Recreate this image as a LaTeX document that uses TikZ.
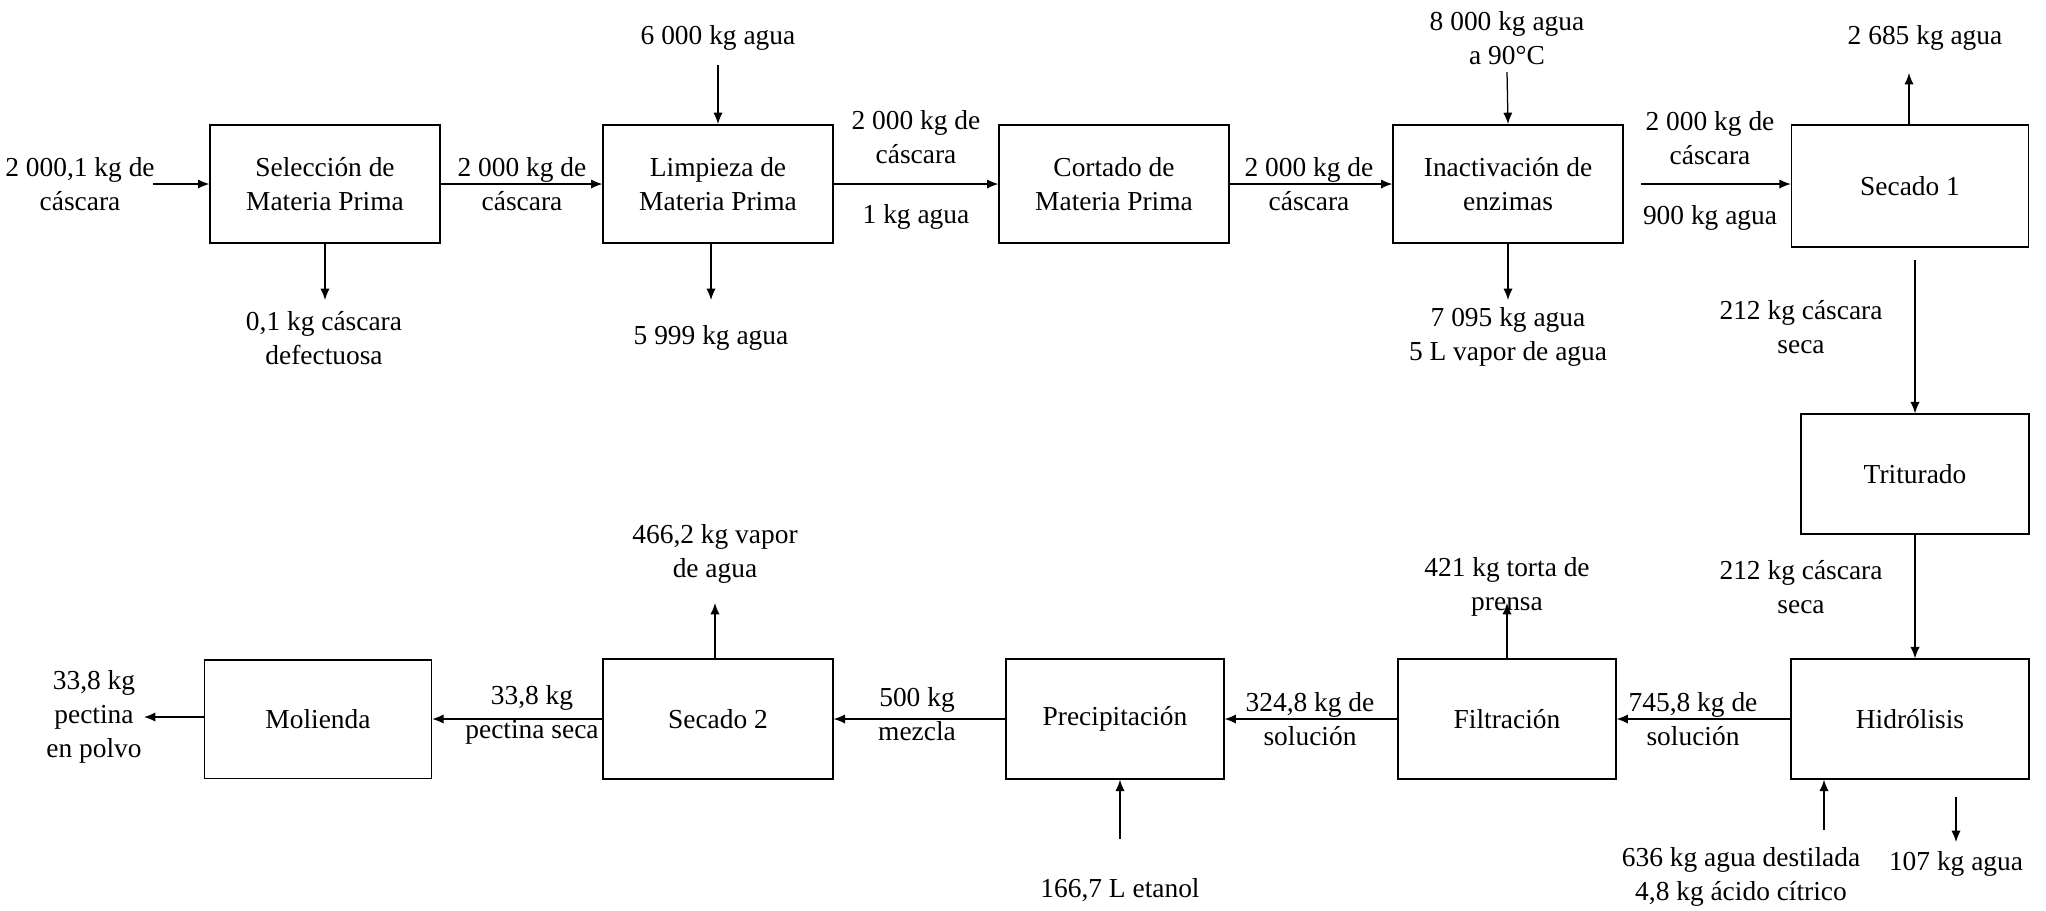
\documentclass[tikz,border=0pt]{standalone}
\usepackage{fontspec}
\setmainfont{Liberation Serif}
\usepackage{tikz}
\usetikzlibrary{arrows.meta}

\begin{document}
\begin{tikzpicture}[x=0.0141cm,y=-0.0141cm,
	>={Latex[length=1.6mm,width=1.3mm]},
	font=\fontsize{11}{13.5}\selectfont,
	box/.style={draw,line width=0.6pt,minimum width=3.24cm,minimum height=1.67cm,align=center},
	lbl/.style={align=center,inner sep=0pt},
	flow/.style={->,line width=0.5pt}]
	\useasboundingbox (0,0) rectangle (2046,910);

	% etapas
	\node[box] (sel) at (325,184) {Selección de\\Materia Prima};
	\node[box] (limp) at (718,184) {Limpieza de\\Materia Prima};
	\node[box] (cort) at (1114,184) {Cortado de\\Materia Prima};
	\node[box] (inact) at (1508,184) {Inactivación de\\enzimas};
	\node[box,minimum width=3.34cm,minimum height=1.72cm] (sec1) at (1910,186) {Secado 1};
	\node[box,minimum width=3.22cm,minimum height=1.69cm] (trit) at (1915,474) {Triturado};
	\node[box,minimum width=3.36cm,minimum height=1.69cm] (hidr) at (1910,719) {Hidrólisis};
	\node[box,minimum width=3.07cm,minimum height=1.69cm] (filt) at (1507,719) {Filtración};
	\node[box,minimum width=3.07cm,minimum height=1.69cm] (prec) at (1115,719) {Precipitación};
	\node[box,minimum width=3.24cm,minimum height=1.69cm] (sec2) at (718,719) {Secado 2};
	\node[box,minimum width=3.2cm,minimum height=1.67cm] (mol) at (318,719) {Molienda};

	% corrientes
	\node[lbl] (l0) at (80,184) {2 000,1 kg de\\cáscara};
	\node[lbl] (l1) at (522,184) {2 000 kg de\\cáscara};
	\node[lbl] (l2) at (324,338) {0,1 kg cáscara\\defectuosa};
	\node[lbl] (l3) at (718,38) {6 000 kg agua};
	\node[lbl] (l4) at (711,338) {5 999 kg agua};
	\node[lbl] (l5) at (916,137) {2 000 kg de\\cáscara};
	\node[lbl] (l6) at (916,217) {1 kg agua};
	\node[lbl] (l7) at (1309,184) {2 000 kg de\\cáscara};
	\node[lbl] (l8) at (1507,38) {8 000 kg agua\\a 90°C};
	\node[lbl] (l9) at (1508,337) {7 095 kg agua\\5 L vapor de agua};
	\node[lbl] (l10) at (1710,138) {2 000 kg de\\cáscara};
	\node[lbl] (l11) at (1710,218) {900 kg agua};
	\node[lbl] (l12) at (1925,38) {2 685 kg agua};
	\node[lbl] (l13) at (1801,327) {212 kg cáscara\\seca};
	\node[lbl] (l14) at (1801,587) {212 kg cáscara\\seca};
	\node[lbl] (l15) at (1693,719) {745,8 kg de\\solución};
	\node[lbl] (l16) at (1741,877) {636 kg agua destilada\\4,8 kg ácido cítrico};
	\node[lbl] (l17) at (1956,864) {107 kg agua};
	\node[lbl] (l18) at (1507,587) {421 kg torta de\\prensa};
	\node[lbl] (l19) at (1310,719) {324,8 kg de\\solución};
	\node[lbl] (l20) at (1120,890) {166,7 L etanol};
	\node[lbl] (l21) at (917,714) {500 kg\\mezcla};
	\node[lbl] (l22) at (715,554) {466,2 kg vapor\\de agua};
	\node[lbl] (l23) at (532,715) {33,8 kg\\pectina seca};
	\node[lbl] (l24) at (94,717) {33,8 kg\\pectina\\en polvo};

	% extremos libres
	\coordinate (in0) at (153,184);
	\coordinate (in1) at (718,65);
	\coordinate (in2) at (1507,72);
	\coordinate (in4) at (1824,830);
	\coordinate (in5) at (1120,839);
	\coordinate (out0) at (325,300);
	\coordinate (out1) at (711,300);
	\coordinate (out2) at (1508,300);
	\coordinate (out3) at (1909,73);
	\coordinate (out4) at (1956,842);
	\coordinate (out5) at (1507,603);
	\coordinate (out6) at (715,603);
	\coordinate (out7) at (144,717);

\draw[flow] (in0) -- (sel);
\draw[flow] (sel) -- (limp);
\draw[flow] (sel.south) -- (out0);
\draw[flow] (in1) -- (limp.north);
\draw[flow] (limp.south -| out1) -- (out1);
\draw[flow] (limp) -- (cort);
\draw[flow] (cort) -- (inact);
\draw[flow] (in2) -- (inact.north);
\draw[flow] (inact.south) -- (out2);
\draw[flow,shorten <=7] (inact.east) -- (sec1.west |- inact.east);
\draw[flow] (sec1.north -| out3) -- (out3);
\draw[flow,shorten <=5] (sec1.south -| trit.north) -- (trit.north);
\draw[flow] (trit.south) -- (hidr.north -| trit.south);
\draw[flow] (hidr) -- (filt);
\draw[flow] (in4) -- (hidr.south -| in4);
\draw[flow,shorten <=7] (hidr.south -| out4) -- (out4);
\draw[flow] (filt.north) -- (out5);
\draw[flow] (filt) -- (prec);
\draw[flow] (in5) -- (prec.south -| in5);
\draw[flow] (prec) -- (sec2);
\draw[flow] (sec2.north -| out6) -- (out6);
\draw[flow] (sec2) -- (mol);
\draw[flow] (mol.west |- out7) -- (out7);

\end{tikzpicture}
\end{document}
